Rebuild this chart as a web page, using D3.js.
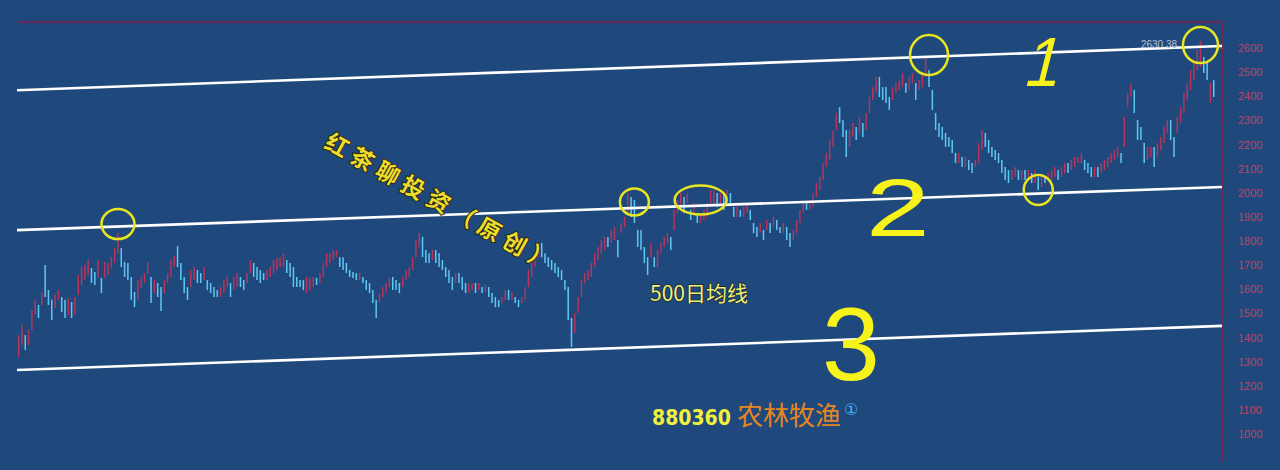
<!DOCTYPE html>
<html><head><meta charset="utf-8">
<script src="https://cdn.jsdelivr.net/npm/d3@7"></script>
<style>html,body{margin:0;padding:0;background:#1f497d;overflow:hidden}</style>
</head><body><svg id="c" width="1280" height="470"></svg>
<script>
// ---- data ----
const yTicks = [1000,1100,1200,1300,1400,1500,1600,1700,1800,1900,2000,2100,2200,2300,2400,2500,2600];
// weekly bars: [open, close]
const bars = [
[1319,1410],[1369,1452],[1410,1348],[1369,1431],[1431,1514],[1493,1556],[1535,1481],[1535,1589],[1701,1568],[1597,1535],
[1556,1473],[1522,1576],[1556,1597],[1568,1506],[1556,1481],[1493,1564],[1547,1481],[1493,1568],[1576,1659],[1618,1692],
[1638,1701],[1659,1721],[1688,1626],[1672,1618],[1651,1721],[1647,1584],[1647,1713],[1659,1709],[1688,1733],[1709,1771],
[1749,1833],[1771,1692],[1713,1651],[1709,1638],[1651,1556],[1589,1526],[1556,1638],[1605,1651],[1626,1667],[1663,1713],
[1651,1543],[1584,1638],[1626,1568],[1609,1510],[1584,1638],[1626,1667],[1651,1721],[1692,1738],[1779,1692],[1709,1638],
[1651,1584],[1609,1556],[1609,1680],[1638,1692],[1680,1626],[1667,1626],[1638,1692],[1638,1597],[1626,1584],[1609,1568],
[1597,1568],[1568,1609],[1584,1638],[1609,1651],[1626,1568],[1597,1651],[1609,1667],[1651,1609],[1638,1597],[1626,1667],
[1667,1721],[1709,1651],[1692,1638],[1680,1626],[1667,1638],[1638,1680],[1651,1692],[1667,1721],[1680,1730],[1692,1733],
[1692,1749],[1721,1667],[1709,1651],[1692,1609],[1651,1609],[1638,1609],[1638,1597],[1584,1651],[1597,1647],[1609,1651],
[1647,1618],[1626,1667],[1651,1709],[1692,1749],[1709,1749],[1721,1763],[1733,1763],[1733,1692],[1733,1680],[1709,1667],
[1680,1651],[1672,1647],[1667,1638],[1638,1667],[1651,1626],[1638,1597],[1626,1584],[1597,1543],[1556,1481],[1543,1584],
[1568,1609],[1584,1626],[1609,1647],[1651,1597],[1638,1597],[1626,1584],[1609,1651],[1638,1680],[1651,1692],[1680,1733],
[1733,1804],[1775,1833],[1817,1733],[1763,1709],[1749,1709],[1721,1763],[1763,1709],[1749,1692],[1721,1680],[1692,1651],
[1680,1626],[1651,1597],[1626,1667],[1667,1626],[1651,1597],[1626,1584],[1584,1626],[1597,1626],[1626,1584],[1597,1626],
[1609,1584],[1589,1618],[1609,1568],[1584,1543],[1568,1526],[1556,1526],[1543,1568],[1556,1597],[1597,1556],[1556,1589],
[1568,1543],[1556,1526],[1543,1568],[1556,1609],[1609,1680],[1651,1709],[1692,1749],[1733,1792],[1792,1733],[1749,1709],
[1733,1692],[1721,1680],[1709,1667],[1692,1651],[1680,1638],[1638,1597],[1609,1473],[1481,1361],[1419,1502],[1502,1568],
[1568,1638],[1626,1667],[1638,1680],[1651,1709],[1692,1749],[1721,1775],[1749,1804],[1763,1817],[1817,1775],[1792,1846],
[1804,1858],[1804,1733],[1833,1875],[1858,1900],[1916,1999],[1982,1900],[1970,1875],[1846,1775],[1846,1763],[1775,1709],
[1733,1659],[1733,1792],[1733,1692],[1692,1763],[1749,1792],[1775,1817],[1792,1833],[1817,1763],[1846,1929],[1916,1970],
[1941,1999],[1982,1916],[1958,1999],[1929,1887],[1916,1958],[1916,1875],[1875,1916],[1887,1929],[1900,1958],[1941,2011],
[1958,2011],[1999,1941],[1941,1999],[1999,1929],[1970,2011],[1999,1958],[1941,1900],[1900,1941],[1929,1900],[1900,1941],
[1916,1958],[1929,1887],[1875,1833],[1858,1817],[1833,1875],[1846,1804],[1846,1887],[1875,1833],[1858,1900],[1887,1846],
[1858,1833],[1833,1875],[1858,1804],[1833,1775],[1804,1846],[1833,1887],[1875,1929],[1916,1958],[1958,1929],[1929,1970],
[1941,1999],[1982,2040],[2011,2065],[2053,2123],[2107,2165],[2136,2219],[2190,2260],[2260,2331],[2355,2289],[2302,2231],
[2260,2148],[2190,2260],[2231,2289],[2273,2219],[2248,2314],[2289,2231],[2260,2331],[2331,2397],[2384,2438],[2414,2480],
[2480,2397],[2438,2384],[2438,2372],[2397,2343],[2384,2438],[2414,2455],[2426,2467],[2438,2496],[2455,2414],[2426,2480],
[2455,2496],[2455,2384],[2426,2467],[2438,2496],[2480,2559],[2509,2438],[2426,2343],[2331,2260],[2289,2231],[2273,2219],
[2248,2190],[2231,2190],[2219,2165],[2165,2123],[2123,2165],[2148,2107],[2107,2148],[2136,2094],[2123,2082],[2107,2136],
[2123,2206],[2177,2260],[2248,2190],[2219,2165],[2190,2148],[2177,2136],[2165,2123],[2136,2082],[2107,2053],[2094,2040],
[2053,2094],[2065,2107],[2094,2053],[2053,2094],[2094,2053],[2053,2094],[2082,2040],[2040,2094],[2065,2011],[2024,2065],
[2065,2040],[2053,2082],[2053,2094],[2065,2107],[2094,2053],[2065,2107],[2082,2123],[2123,2082],[2094,2136],[2107,2148],
[2123,2148],[2123,2165],[2136,2094],[2123,2082],[2107,2065],[2065,2107],[2107,2065],[2082,2123],[2094,2136],[2107,2148],
[2123,2165],[2136,2177],[2148,2190],[2165,2123],[2190,2314],[2355,2414],[2397,2455],[2426,2331],[2302,2219],[2273,2219],
[2206,2123],[2136,2190],[2148,2190],[2190,2107],[2148,2206],[2177,2231],[2206,2273],[2248,2302],[2302,2219],[2231,2148],
[2248,2314],[2289,2355],[2331,2414],[2384,2455],[2426,2509],[2467,2538],[2509,2592],[2521,2630],[2563,2496],[2538,2467],
[2372,2455],[2467,2397]
];
// channel lines: price at left edge and right edge of the plot
const channelFrom = [2425, 1845, 1265];
const channelTo   = [2608, 2024, 1448];
const channelNames = ["1", "2", "3"];
// highlighted touch points: bar index, price
const markIndex = [30, 186, 206, 275, 308, 357];
const markPrice = [1870, 1962, 1970, 2571, 2011, 2612];
const markRx = [16.5, 14.5, 26, 19, 14.5, 17.5];
const markRy = [15, 13.5, 14.5, 20, 15, 18];
const highLabel = "2630.38";

// ---- drawing ----
const W = 1280, H = 470;
const svg = d3.select("#c");
svg.append("rect").attr("width", W).attr("height", H).attr("fill", "#1f497d");

const x = d3.scaleLinear().domain([-0.5, bars.length + 1.5]).range([17, 1222]);
const y = d3.scaleLinear().domain([1000, 2600]).range([434, 48]);
const [x0, x1] = x.range();

// frame
svg.append("line").attr("x1", x0).attr("x2", x1 + 1).attr("y1", 22).attr("y2", 22)
  .attr("stroke", "#5a2d5c").attr("stroke-width", 2.5);
svg.append("line").attr("x1", x1).attr("x2", x1).attr("y1", 21).attr("y2", 462)
  .attr("stroke", "#6b2b56").attr("stroke-width", 2);

// axis
const axis = d3.axisRight(y).tickValues(yTicks).tickSize(3).tickPadding(13).tickFormat(d3.format("d"));
const ag = svg.append("g").attr("transform", `translate(${x1},0)`).call(axis);
ag.select(".domain").remove();
ag.selectAll(".tick line").attr("stroke", "#8a2f55").attr("x1", -2).attr("x2", 1);
ag.selectAll(".tick text").attr("fill", "#c83e62").attr("font-family", "Liberation Sans, Arial, sans-serif")
  .attr("font-size", 11);

// bars
svg.append("g").selectAll("line").data(bars).join("line")
  .attr("x1", (d, i) => x(i)).attr("x2", (d, i) => x(i))
  .attr("y1", d => y(Math.max(d[0], d[1])))
  .attr("y2", d => Math.max(y(Math.min(d[0], d[1])), y(Math.max(d[0], d[1])) + 1))
  .attr("stroke", d => d[1] >= d[0] ? "#b8345a" : "#5ec8f2")
  .attr("stroke-width", 1.5);

// channel lines
const [i0, i1] = x.domain();
svg.append("g").selectAll("line").data(channelFrom).join("line")
  .attr("x1", x(i0)).attr("x2", x(i1))
  .attr("y1", d => y(d)).attr("y2", (d, k) => y(channelTo[k]))
  .attr("stroke", "#ffffff").attr("stroke-width", 2.6);

// high label
svg.append("text").attr("x", x(bars.length - 23)).attr("y", y(2612) + 3)
  .attr("fill", "#b9c2d2").attr("font-family", "Liberation Sans, Arial, sans-serif").attr("font-size", 10)
  .text(highLabel + " ←");

// circles
svg.append("g").selectAll("ellipse").data(markIndex).join("ellipse")
  .attr("cx", d => x(d)).attr("cy", (d, k) => y(markPrice[k]))
  .attr("rx", (d, k) => markRx[k]).attr("ry", (d, k) => markRy[k])
  .attr("fill", "none").attr("stroke", "#e9e61e").attr("stroke-width", 2.5);

// handwritten channel numbers
const hand = svg.append("g").attr("fill", "#f7f21a").attr("font-family", "Liberation Sans, sans-serif");
hand.append("text").attr("transform", "translate(1022,86) skewX(-14) scale(0.9,1)").attr("font-size", 70).text(channelNames[0]);
hand.append("text").attr("transform", "translate(866,236) scale(1.4,1)").attr("font-size", 82).text(channelNames[1]);
hand.append("text").attr("transform", "translate(822,380) scale(1.0,1)").attr("font-size", 104).text(channelNames[2]);

// rotated title
svg.append("text").attr("transform", "translate(323,147) rotate(29)")
  .attr("font-family", "Noto Sans CJK SC, sans-serif").attr("font-size", 23).attr("font-weight", 700)
  .attr("letter-spacing", 6)
  .attr("fill", "#eedc2c").attr("stroke", "#2a2a18").attr("stroke-width", 2).attr("paint-order", "stroke")
  .text("红茶聊投资（原创）");

// 500日均线
svg.append("text").attr("x", 650).attr("y", 301)
  .attr("font-family", "Noto Sans CJK SC, sans-serif").attr("font-size", 21)
  .attr("fill", "#f2f07a").attr("stroke", "#1a2a30").attr("stroke-width", 1.5).attr("paint-order", "stroke")
  .text("500日均线");

// bottom name
const nm = svg.append("text").attr("y", 425);
nm.append("tspan").attr("x", 652).attr("font-family", "DejaVu Sans Condensed, DejaVu Sans, sans-serif")
  .attr("font-weight", 700).attr("font-size", 21).attr("fill", "#f2f03c").text("880360");
nm.append("tspan").attr("dx", 6).attr("font-family", "Noto Sans CJK SC, sans-serif")
  .attr("font-size", 26).attr("fill", "#e8861e").text("农林牧渔");
nm.append("tspan").attr("dx", 3).attr("dy", -10).attr("font-family", "DejaVu Sans, sans-serif")
  .attr("font-size", 16).attr("fill", "#45b4f0").text("①");
</script></body></html>
